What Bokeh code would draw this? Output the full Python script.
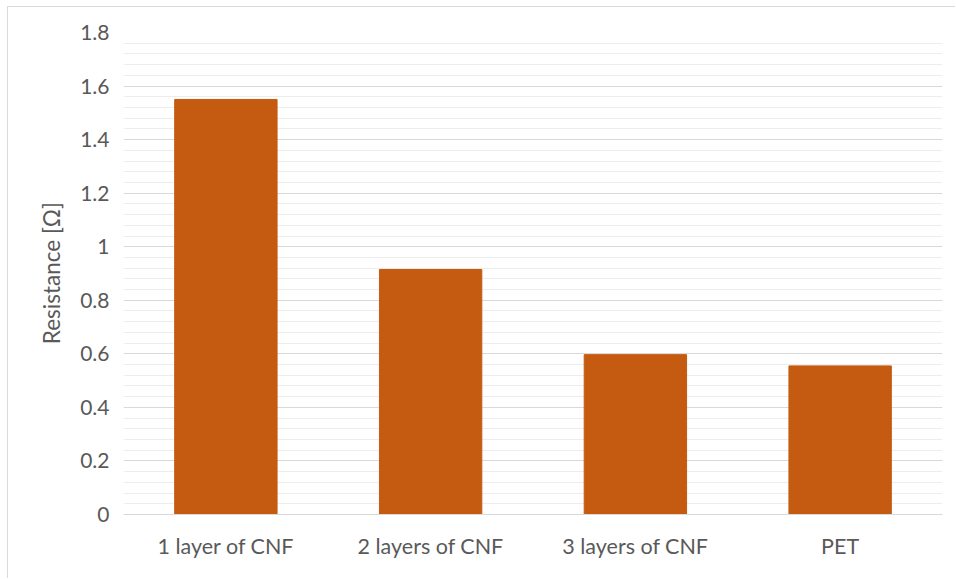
from bokeh.plotting import figure
from bokeh.models import FixedTicker, CustomJSTickFormatter
from bokeh.embed import file_html
from bokeh.resources import INLINE

# Measured resistance per substrate
samples = ["1 layer of CNF", "2 layers of CNF", "3 layers of CNF", "PET"]
resistance = [1.55, 0.915, 0.597, 0.555]

y_ticks = [0, 0.2, 0.4, 0.6, 0.8, 1.0, 1.2, 1.4, 1.6, 1.8]
y_minor = [round(i * 0.04, 2) for i in range(46)]

FONT = "Lato"
TEXT = "#595959"

p = figure(
    x_range=samples,
    y_range=(0, 1.8),
    width=948,
    height=572,
    output_backend="svg",
    toolbar_location=None,
    min_border_left=115,
    min_border_right=14,
    min_border_top=25,
    min_border_bottom=65,
)
p.margin = (6, 0, 0, 7)
p.styles = {"border-left": "1px solid #D9D9D9", "border-top": "1px solid #D9D9D9"}

p.vbar(x=samples, top=resistance, width=0.5, fill_color="#C55A11",
       line_color="#C55A11", line_width=1)

p.outline_line_color = None
p.xgrid.grid_line_color = None

p.yaxis.ticker = FixedTicker(ticks=y_ticks, minor_ticks=y_minor)
p.ygrid.ticker = p.yaxis.ticker
p.ygrid.grid_line_color = "#D9D9D9"
p.ygrid.grid_line_width = 1
p.ygrid.minor_grid_line_color = "#EDEDED"
p.ygrid.minor_grid_line_width = 1
p.ygrid.level = "underlay"

p.yaxis.formatter = CustomJSTickFormatter(
    code="var s = tick.toFixed(1); return s.endsWith('.0') ? s.slice(0, -2) : s;")
p.yaxis.axis_line_color = None
p.yaxis.major_tick_line_color = None
p.yaxis.minor_tick_line_color = None
p.yaxis.major_label_standoff = 8
p.yaxis.major_label_text_font = FONT
p.yaxis.major_label_text_font_size = "21px"
p.yaxis.major_label_text_color = TEXT
p.yaxis.axis_label = "Resistance [Ω]"
p.yaxis.axis_label_text_font = FONT
p.yaxis.axis_label_text_font_size = "22.5px"
p.yaxis.axis_label_text_font_style = "normal"
p.yaxis.axis_label_text_color = TEXT
p.yaxis.axis_label_standoff = 12

p.xaxis.axis_line_color = "#D9D9D9"
p.xaxis.major_tick_line_color = None
p.xaxis.minor_tick_line_color = None
p.xaxis.major_label_standoff = 12
p.xaxis.major_label_text_font = FONT
p.xaxis.major_label_text_font_size = "21.5px"
p.xaxis.major_label_text_color = TEXT

open("out.html", "w").write(file_html(p, INLINE))
